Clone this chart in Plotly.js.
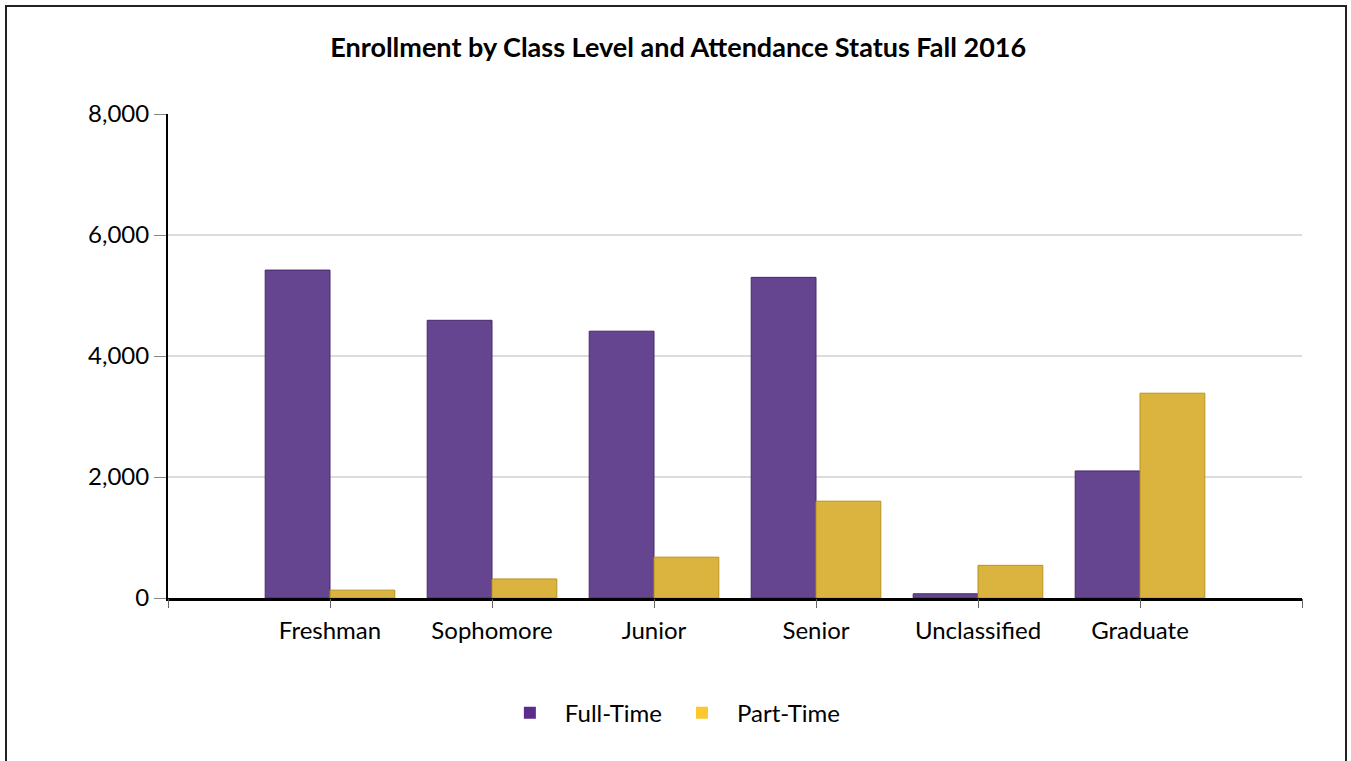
<!DOCTYPE html>
<html>
<head>
<meta charset="utf-8">
<script src="https://cdn.plot.ly/plotly-3.0.1.min.js"></script>
<style>
  body { margin: 0; background: #fff; }
  #chart { width: 1351px; height: 761px; }
  #frame { position: absolute; left: 5px; top: 5px; width: 1338px; height: 800px;
           border: 2px solid #222; pointer-events: none; }
</style>
</head>
<body>
<div id="chart"></div>
<div id="frame"></div>
<script>
// class levels on the x axis
var classLevels = ["Freshman", "Sophomore", "Junior", "Senior", "Unclassified", "Graduate"];

// headcount
var fullTime = [5420, 4590, 4410, 5300, 70, 2100];
var partTime = [130, 315, 675, 1600, 540, 3385];

var font = "Lato, 'Open Sans', sans-serif";

// bars (shaded colours); legend swatches come from the empty traces on x2
var traceFT = {
    x: classLevels,
    y: fullTime,
    type: 'bar',
    name: 'Full-Time',
    showlegend: false,
    marker: {color: '#65458f', line: {color: '#48286e', width: 1}}
};
var tracePT = {
    x: classLevels,
    y: partTime,
    type: 'bar',
    name: 'Part-Time',
    showlegend: false,
    marker: {color: '#dab43e', line: {color: '#b8921f', width: 1}}
};
var legendFT = {x: [0], y: [null], xaxis: 'x2', type: 'bar', name: 'Full-Time',
    marker: {color: '#5b2c8c'}};
var legendPT = {x: [0], y: [null], xaxis: 'x2', type: 'bar', name: 'Part-Time',
    marker: {color: '#fdc82f'}};

var data = [traceFT, tracePT, legendFT, legendPT];

var layout = {
    width: 1351,
    height: 761,
    margin: {l: 168, r: 49, t: 114, b: 163},
    paper_bgcolor: '#fff',
    plot_bgcolor: '#fff',
    font: {family: font, size: 24, color: '#000'},
    title: {
        text: '<b>Enrollment by Class Level and Attendance Status Fall 2016</b>',
        font: {family: font, size: 27, color: '#000'},
        xref: 'container', x: 0.502,
        yref: 'container', y: 0.937, yanchor: 'middle'
    },
    barmode: 'group',
    bargap: 0.2,
    bargroupgap: 0,
    xaxis: {
        type: 'category',
        range: [-1, 6],
        showgrid: false,
        showline: true, linecolor: '#000', linewidth: 3,
        ticks: '', ticklabelstandoff: 9,
        tickfont: {family: font, size: 24}
    },
    xaxis2: {
        overlaying: 'x', anchor: 'y', side: 'bottom',
        range: [-1, 6], tickmode: 'linear', tick0: -1, dtick: 1,
        ticks: 'outside', ticklen: 9, tickcolor: '#666', tickwidth: 1,
        showticklabels: false, showgrid: false, zeroline: false, showline: false
    },
    yaxis: {
        range: [0, 8000],
        tickvals: [0, 2000, 4000, 6000, 8000],
        tickformat: ',d',
        showgrid: true, gridcolor: '#dcdcdc', gridwidth: 2,
        zeroline: false,
        showline: true, linecolor: '#000', linewidth: 2,
        ticks: 'outside', ticklen: 12, tickcolor: '#888', tickwidth: 1,
        tickfont: {family: font, size: 24}
    },
    legend: {
        orientation: 'h',
        x: 0.443, xanchor: 'center',
        y: -0.238, yanchor: 'middle',
        font: {family: font, size: 24},
        itemwidth: 60,
        traceorder: 'normal'
    }
};

Plotly.newPlot('chart', data, layout, {displayModeBar: false});
</script>
</body>
</html>
